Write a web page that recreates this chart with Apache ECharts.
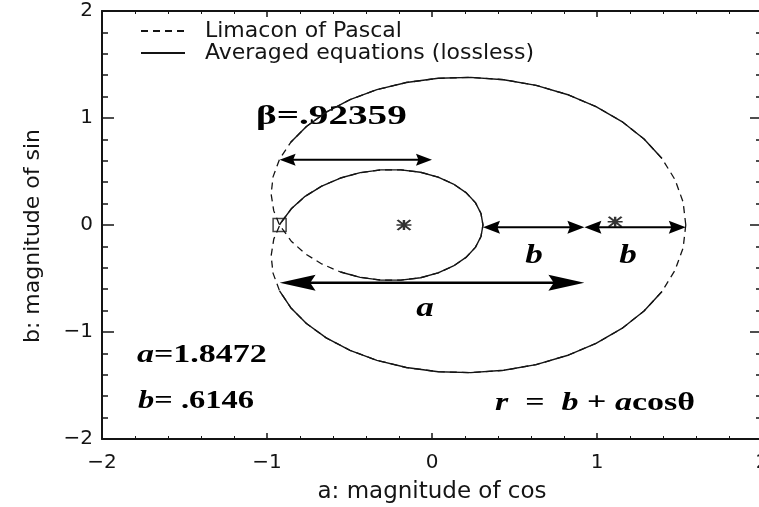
<!DOCTYPE html>
<html>
<head>
<meta charset="utf-8">
<script src="https://cdn.jsdelivr.net/npm/echarts@6/dist/echarts.min.js"></script>
<style>
  html, body { margin: 0; padding: 0; background: #ffffff; }
  #chart { width: 759px; height: 507px; }
</style>
</head>
<body>
<div id="chart"></div>
<script>
// Parameters of the limacon r = b + a cos(theta); its node sits at x = -beta
const a = 1.8472;
const b = 0.6146;
const beta = 0.92359;

// Tick labels of both axes
const xTickLabels = { '-2': '\u22122', '-1': '\u22121', '0': '0', '1': '1', '2': '2' };
const yTickLabels = { '-2': '\u22122', '-1': '\u22121', '0': '0', '1': '1', '2': '2' };

// Limacon of Pascal, traced every 5 degrees (both loops, through the node twice)
const limaconPts = [
  [1.538, 0], [1.522, 0.214], [1.473, 0.423], [1.394, 0.621], [1.285, 0.804],
  [1.151, 0.967], [0.994, 1.107], [0.819, 1.220], [0.631, 1.305], [0.435, 1.358],
  [0.235, 1.380], [0.037, 1.371], [-0.155, 1.332], [-0.334, 1.265], [-0.497, 1.171],
  [-0.641, 1.055], [-0.761, 0.921], [-0.856, 0.773], [-0.924, 0.615], [-0.963, 0.452],
  [-0.975, 0.289], [-0.959, 0.132], [-0.924, 0], [-0.918, -0.016], [-0.853, -0.151],
  [-0.769, -0.268], [-0.668, -0.364], [-0.555, -0.439], [-0.435, -0.489], [-0.310, -0.515],
  [-0.188, -0.515], [-0.070, -0.493], [0.037, -0.448], [0.130, -0.383], [0.206, -0.303],
  [0.263, -0.209], [0.297, -0.107], [0.309, 0], [0.297, 0.107], [0.263, 0.209],
  [0.206, 0.303], [0.130, 0.383], [0.037, 0.448], [-0.070, 0.493], [-0.188, 0.515],
  [-0.310, 0.515], [-0.435, 0.489], [-0.555, 0.439], [-0.668, 0.364], [-0.769, 0.268],
  [-0.853, 0.151], [-0.918, 0.016], [-0.924, 0], [-0.959, -0.132], [-0.975, -0.289],
  [-0.963, -0.452], [-0.924, -0.615], [-0.856, -0.773], [-0.761, -0.921], [-0.641, -1.055],
  [-0.497, -1.171], [-0.334, -1.265], [-0.155, -1.332], [0.037, -1.371], [0.235, -1.380],
  [0.435, -1.358], [0.631, -1.305], [0.819, -1.220], [0.994, -1.107], [1.151, -0.967],
  [1.285, -0.804], [1.394, -0.621], [1.473, -0.423], [1.522, -0.214], [1.538, 0]
];

// Averaged-equation (lossless) trajectory, in three visible pieces
const averagedLower = [
  [-0.924, -0.615], [-0.856, -0.773], [-0.761, -0.921], [-0.641, -1.055], [-0.497, -1.171],
  [-0.334, -1.265], [-0.155, -1.332], [0.037, -1.371], [0.235, -1.380], [0.435, -1.358],
  [0.631, -1.305], [0.819, -1.220], [0.994, -1.107], [1.151, -0.967], [1.285, -0.804],
  [1.394, -0.621]
];
const averagedUpper = [
  [1.394, 0.621], [1.285, 0.804], [1.151, 0.967], [0.994, 1.107], [0.819, 1.220],
  [0.631, 1.305], [0.435, 1.358], [0.235, 1.380], [0.037, 1.371], [-0.155, 1.332],
  [-0.334, 1.265], [-0.497, 1.171], [-0.641, 1.055], [-0.761, 0.921], [-0.856, 0.773]
];
const averagedInner = [
  [-0.555, -0.439], [-0.435, -0.489], [-0.310, -0.515], [-0.188, -0.515], [-0.070, -0.493],
  [0.037, -0.448], [0.130, -0.383], [0.206, -0.303], [0.263, -0.209], [0.297, -0.107],
  [0.309, 0], [0.297, 0.107], [0.263, 0.209], [0.206, 0.303], [0.130, 0.383],
  [0.037, 0.448], [-0.070, 0.493], [-0.188, 0.515], [-0.310, 0.515], [-0.435, 0.489],
  [-0.555, 0.439], [-0.668, 0.364], [-0.769, 0.268], [-0.853, 0.151], [-0.918, 0.016],
  [-0.924, 0]
];

// Node of the limacon and the two starred points
const nodePoint = [[-beta, 0]];
const starPoints = [[-0.17, 0.0], [1.11, 0.03]];

// Rows (y) on which the dimension arrows are drawn
const rowBeta = 0.61;
const rowA = -0.54;
const rowB = -0.02;

// Dimension arrows: [from x, to x, y]
const arrowSpans = [
  [-beta, 0, rowBeta],
  [-beta, -beta + a, rowA],
  [-beta + a - b, -beta + a, rowB],
  [-beta + a, -beta + a + b, rowB]
];
const arrowLook = [
  { len: 16, w: 12, lw: 2 },
  { len: 36, w: 16, lw: 2.5 },
  { len: 17, w: 13, lw: 2 },
  { len: 17, w: 13, lw: 2 }
];

const ink = '#141414';
const axisFont = 'DejaVu Sans';
const serif = 'Liberation Serif';

const averagedPts = averagedLower.concat([null], averagedUpper, [null], averagedInner);

const chart = echarts.init(document.getElementById('chart'), null, { renderer: 'canvas' });

function tickFmt(map) {
  return function (v) {
    const k = String(Math.round(v));
    return map[k] !== undefined ? map[k] : '';
  };
}

const axisLineStyle = { color: ink, width: 2 };

function serifRich(size) {
  return {
    n: { fontFamily: serif, fontWeight: 'bold', fontSize: size, fill: '#000' },
    i: { fontFamily: serif, fontWeight: 'bold', fontStyle: 'italic', fontSize: size, fill: '#000' }
  };
}

function note(text, x, y, size, sx, align) {
  return {
    type: 'text',
    x: x, y: y,
    scaleX: sx,
    silent: true,
    style: {
      text: text,
      rich: serifRich(size),
      font: 'bold ' + size + 'px "' + serif + '"',
      fill: '#000',
      align: align || 'left',
      verticalAlign: 'middle'
    }
  };
}

const option = {
  backgroundColor: '#ffffff',
  animation: false,
  grid: { left: 102, right: -3, top: 11, bottom: 68, containLabel: false, outerBoundsMode: 'none' },
  legend: {
    orient: 'vertical',
    left: 140,
    top: 20,
    padding: 0,
    itemWidth: 44,
    itemHeight: 14,
    itemGap: 0,
    selectedMode: false,
    itemStyle: { opacity: 0 },
    data: ['Limacon of Pascal', 'Averaged equations (lossless)'],
    textStyle: {
      fontFamily: axisFont, fontSize: 22, color: ink, lineHeight: 19,
      padding: [0, 0, 0, 15]
    }
  },
  xAxis: [
    {
      type: 'value', min: -2, max: 2, interval: 1, position: 'bottom',
      name: 'a: magnitude of cos', nameLocation: 'middle', nameGap: 42,
      nameTextStyle: { fontFamily: axisFont, fontSize: 23, color: ink },
      axisLine: { onZero: false, lineStyle: axisLineStyle },
      axisTick: { inside: true, length: 6, lineStyle: { color: ink, width: 1.5 } },
      minorTick: { show: true, splitNumber: 5, length: 3, lineStyle: { color: ink, width: 1 } },
      splitLine: { show: false },
      axisLabel: { formatter: tickFmt(xTickLabels), fontFamily: axisFont, fontSize: 20, color: ink, margin: 14 }
    },
    {
      type: 'value', min: -2, max: 2, interval: 1, position: 'top',
      axisLine: { onZero: false, lineStyle: axisLineStyle },
      axisTick: { inside: true, length: 6, lineStyle: { color: ink, width: 1.5 } },
      minorTick: { show: true, splitNumber: 5, length: 3, lineStyle: { color: ink, width: 1 } },
      splitLine: { show: false },
      axisLabel: { show: false }
    }
  ],
  yAxis: [
    {
      type: 'value', min: -2, max: 2, interval: 1, position: 'left',
      name: 'b: magnitude of sin', nameLocation: 'middle', nameGap: 58, nameRotate: 90,
      nameTextStyle: { fontFamily: axisFont, fontSize: 22, color: ink, padding: [0, 22, 0, 0] },
      axisLine: { onZero: false, lineStyle: axisLineStyle },
      axisTick: { inside: true, length: 12, lineStyle: { color: ink, width: 1.5 } },
      minorTick: { show: true, splitNumber: 5, length: 6, lineStyle: { color: ink, width: 1.5 } },
      splitLine: { show: false },
      axisLabel: { formatter: tickFmt(yTickLabels), fontFamily: axisFont, fontSize: 20, color: ink, margin: 9 }
    },
    {
      type: 'value', min: -2, max: 2, interval: 1, position: 'right',
      axisLine: { onZero: false, lineStyle: axisLineStyle },
      axisTick: { inside: true, length: 12, lineStyle: { color: ink, width: 1.5 } },
      minorTick: { show: true, splitNumber: 5, length: 6, lineStyle: { color: ink, width: 1.5 } },
      splitLine: { show: false },
      axisLabel: { show: false }
    }
  ],
  series: [
    {
      name: 'Limacon of Pascal',
      type: 'line',
      data: limaconPts,
      symbol: 'none',
      silent: true,
      lineStyle: { color: ink, width: 1.3, type: [7, 5] },
      itemStyle: { color: ink },
      z: 2
    },
    {
      name: 'Averaged equations (lossless)',
      type: 'line',
      data: averagedPts,
      connectNulls: false,
      symbol: 'none',
      silent: true,
      lineStyle: { color: ink, width: 1.4, type: 'solid' },
      itemStyle: { color: ink },
      z: 3
    },
    {
      name: 'node',
      type: 'scatter',
      data: nodePoint,
      symbol: 'rect',
      symbolSize: 13,
      silent: true,
      itemStyle: { color: 'rgba(0,0,0,0)', borderColor: ink, borderWidth: 1.5 },
      z: 4
    },
    {
      name: 'stars',
      type: 'scatter',
      data: starPoints,
      symbol: 'path://M0,5L14,5M7,0L7,10M1,0L13,10M13,0L1,10',
      symbolSize: [15, 10],
      silent: true,
      itemStyle: { color: 'rgba(0,0,0,0)', borderColor: '#000', borderWidth: 2 },
      z: 4
    },
    {
      name: 'dimensions',
      type: 'custom',
      data: arrowSpans,
      encode: { x: [0, 1], y: 2 },
      silent: true,
      clip: false,
      z: 5,
      renderItem: function (params, api) {
        const p1 = api.coord([api.value(0), api.value(2)]);
        const p2 = api.coord([api.value(1), api.value(2)]);
        const s = arrowLook[params.dataIndex];
        const h = s.w / 2;
        return {
          type: 'group',
          children: [
            {
              type: 'line',
              shape: { x1: p1[0] + s.len * 0.6, y1: p1[1], x2: p2[0] - s.len * 0.6, y2: p2[1] },
              style: { stroke: '#000', lineWidth: s.lw }
            },
            {
              type: 'polygon',
              shape: { points: [[p1[0], p1[1]], [p1[0] + s.len, p1[1] - h], [p1[0] + s.len * 0.85, p1[1]], [p1[0] + s.len, p1[1] + h]] },
              style: { fill: '#000' }
            },
            {
              type: 'polygon',
              shape: { points: [[p2[0], p2[1]], [p2[0] - s.len, p2[1] - h], [p2[0] - s.len * 0.85, p2[1]], [p2[0] - s.len, p2[1] + h]] },
              style: { fill: '#000' }
            }
          ]
        };
      }
    }
  ],
  graphic: [
    note('{n|\u03b2=.92359}', 256, 117, 28, 1.4),
    note('{i|a}{n|=1.8472}', 137, 356, 25, 1.36),
    note('{i|b}{n|= .6146}', 138, 402, 25, 1.3),
    note('{i|r}{n|  =  }{i|b}{n| + }{i|a}{n|cos\u03b8}', 495, 404, 25, 1.36),
    note('{i|b}', 534, 256, 27, 1.3, 'center'),
    note('{i|b}', 628, 256, 27, 1.3, 'center'),
    note('{i|a}', 425, 309, 27, 1.3, 'center')
  ]
};

chart.setOption(option);
</script>
</body>
</html>
